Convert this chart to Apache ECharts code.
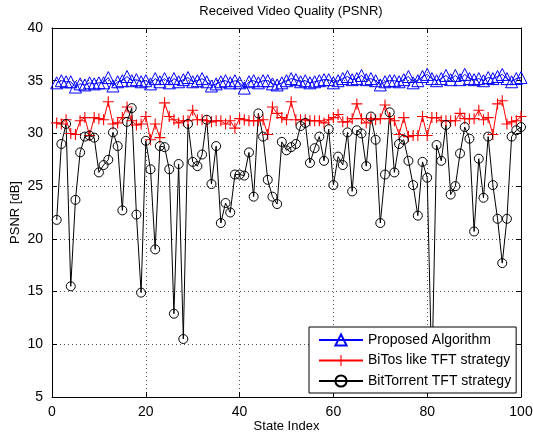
<!DOCTYPE html>
<html>
<head>
<meta charset="utf-8">
<script src="https://cdn.jsdelivr.net/npm/echarts@6/dist/echarts.min.js"></script>
<style>
  html, body { margin: 0; padding: 0; background: #fff; }
  #chart { width: 533px; height: 436px; }
</style>
</head>
<body>
<div id="chart"></div>
<script>
// PSNR per state index (1..100)
const proposed = [
  34.8, 35.0, 34.9, 34.9, 34.4, 34.7, 34.6, 34.8, 34.7, 34.8,
  34.8, 35.3, 34.5, 34.9, 35.0, 35.4, 35.0, 35.1, 34.9, 35.0,
  34.7, 35.2, 34.9, 35.2, 34.8, 35.2, 34.9, 35.1, 35.3, 34.9,
  35.0, 35.2, 34.9, 34.5, 34.7, 34.9, 35.0, 34.8, 35.0, 34.8,
  34.3, 34.9, 35.0, 34.8, 35.0, 35.0, 34.7, 34.6, 34.8, 35.0,
  35.2, 35.1, 34.9, 35.0, 34.8, 34.9, 35.0, 35.1, 35.1, 34.8,
  35.0, 35.2, 35.4, 35.1, 35.2, 35.5, 35.1, 35.2, 35.0, 34.6,
  34.9, 35.0, 35.0, 34.9, 35.1, 35.4, 34.8, 35.0, 35.4, 35.6,
  35.2, 35.0, 35.2, 35.5, 35.1, 35.5, 35.1, 35.6, 35.2, 35.1,
  35.2, 35.0, 35.3, 35.2, 35.4, 35.6, 35.2, 34.9, 35.2, 35.3
];
const bitos = [
  31.0, 30.9, 31.3, 30.0, 29.9, 31.2, 31.5, 29.8, 31.5, 31.4,
  31.3, 33.0, 30.9, 31.0, 31.5, 32.5, 31.2, 30.8, 30.9, 31.6,
  29.4, 30.9, 29.6, 32.9, 31.6, 31.3, 31.0, 31.2, 31.2, 32.2,
  31.3, 31.3, 31.2, 31.1, 31.2, 31.2, 30.9, 31.2, 30.5, 31.4,
  31.3, 31.2, 31.2, 31.2, 31.3, 29.9, 32.5, 31.9, 31.5, 31.3,
  33.0, 31.3, 31.3, 31.3, 31.2, 31.2, 31.2, 31.0, 31.3, 31.5,
  31.8, 31.1, 31.1, 31.4, 32.8, 31.4, 31.0, 31.4, 31.3, 31.4,
  32.7, 31.4, 31.2, 29.9, 31.5, 29.7, 29.8, 29.8, 31.6, 29.8,
  31.5, 31.5, 31.2, 31.2, 31.2, 31.2, 31.9, 31.4, 31.4, 31.4,
  32.2, 31.3, 31.5, 29.9, 32.8, 33.1, 30.9, 31.1, 31.2, 31.6
];
const bittorrent = [
  21.8, 29.0, 30.9, 15.5, 23.7, 28.2, 29.7, 29.8, 29.6, 26.3,
  27.0, 27.5, 30.1, 28.8, 22.7, 31.1, 32.4, 22.3, 14.9, 29.3,
  26.6, 19.0, 28.8, 28.7, 26.6, 12.9, 27.1, 10.5, 30.9, 27.3,
  26.9, 28.0, 31.3, 25.2, 28.8, 21.5, 23.4, 22.5, 26.1, 26.1,
  26.0, 28.2, 24.0, 31.9, 29.7, 25.6, 24.0, 23.3, 29.2, 28.4,
  28.7, 29.0, 30.7, 31.0, 27.2, 28.6, 29.7, 27.4, 30.4, 25.1,
  27.8, 27.0, 30.1, 24.5, 30.3, 30.0, 26.9, 31.6, 29.4, 21.5,
  26.1, 32.0, 26.3, 29.0, 29.4, 27.4, 25.1, 22.2, 27.3, 25.8,
  7.0, 28.9, 27.4, 30.8, 24.2, 25.0, 28.1, 30.6, 29.5, 20.7,
  27.6, 23.9, 29.7, 25.1, 21.9, 17.7, 21.9, 29.7, 30.3, 30.6
];
const seriesNames = ['Proposed Algorithm', 'BiTos like TFT strategy', 'BitTorrent TFT strategy'];
const xTicks = [0, 20, 40, 60, 80, 100];
const yTicks = [5, 10, 15, 20, 25, 30, 35, 40];

const font = 'Liberation Sans, Arial, Helvetica, sans-serif';
const plusSymbol = 'path://M4.5,0 H5.5 V4.5 H10 V5.5 H5.5 V10 H4.5 V5.5 H0 V4.5 H4.5 Z';

const pairs = arr => arr.map((v, i) => [i + 1, v]);

const chart = echarts.init(document.getElementById('chart'));

const gridLine = { show: true, lineStyle: { color: '#555', type: [1, 3], width: 1 } };
const boxLine = { show: true, onZero: false, lineStyle: { color: '#000', width: 1 } };
const inTick = { show: true, inside: true, length: 5, lineStyle: { color: '#000' } };

chart.setOption({
  animation: false,
  backgroundColor: '#fff',
  title: {
    text: 'Received Video Quality (PSNR)',
    left: 286, top: 0, textAlign: 'center',
    textStyle: { fontFamily: font, fontSize: 13, fontWeight: 'normal', color: '#000' }
  },
  grid: { left: 52, right: 12, top: 28, bottom: 39, outerBoundsMode: 'none', containLabel: false },
  legend: {
    orient: 'vertical',
    left: 309, top: 327,
    padding: [6, 5, 5, 9],
    itemWidth: 44, itemHeight: 14, itemGap: 6.5,
    backgroundColor: '#fff',
    borderColor: '#000', borderWidth: 1,
    z: 10,
    textStyle: { fontFamily: font, fontSize: 14, color: '#000' },
    data: seriesNames
  },
  xAxis: [{
    type: 'value', min: xTicks[0], max: xTicks[xTicks.length - 1], interval: 20,
    name: 'State Index', nameLocation: 'middle', nameGap: 23, nameMoveOverlap: false,
    nameTextStyle: { fontFamily: font, fontSize: 13, color: '#000' },
    axisLine: boxLine, axisTick: inTick,
    axisLabel: { fontFamily: font, fontSize: 14, color: '#000', margin: 8 },
    splitLine: gridLine
  }, {
    type: 'value', position: 'top', min: xTicks[0], max: xTicks[xTicks.length - 1], interval: 20,
    axisLine: boxLine, axisTick: inTick, axisLabel: { show: false }, splitLine: { show: false }
  }],
  yAxis: [{
    type: 'value', min: yTicks[0], max: yTicks[yTicks.length - 1], interval: 5,
    name: 'PSNR [dB]', nameLocation: 'middle', nameGap: 30, nameMoveOverlap: false,
    nameTextStyle: { fontFamily: font, fontSize: 13, color: '#000' },
    axisLine: boxLine, axisTick: inTick,
    axisLabel: { fontFamily: font, fontSize: 14, color: '#000', margin: 9 },
    splitLine: gridLine
  }, {
    type: 'value', position: 'right', min: yTicks[0], max: yTicks[yTicks.length - 1], interval: 5,
    axisLine: boxLine, axisTick: inTick, axisLabel: { show: false }, splitLine: { show: false }
  }],
  series: [{
    name: seriesNames[0], type: 'line', data: pairs(proposed),
    symbol: 'triangle', symbolSize: 12,
    lineStyle: { color: '#0000ff', width: 1 },
    itemStyle: { color: 'rgba(0,0,0,0)', borderColor: '#0000ff', borderWidth: 1 }
  }, {
    name: seriesNames[1], type: 'line', data: pairs(bitos),
    symbol: plusSymbol, symbolSize: 11,
    lineStyle: { color: '#ff0000', width: 1 },
    itemStyle: { color: '#ff0000' }
  }, {
    name: seriesNames[2], type: 'line', data: pairs(bittorrent),
    symbol: 'circle', symbolSize: 9,
    lineStyle: { color: '#000', width: 1 },
    itemStyle: { color: 'rgba(0,0,0,0)', borderColor: '#000', borderWidth: 1 }
  }]
});
</script>
</body>
</html>
